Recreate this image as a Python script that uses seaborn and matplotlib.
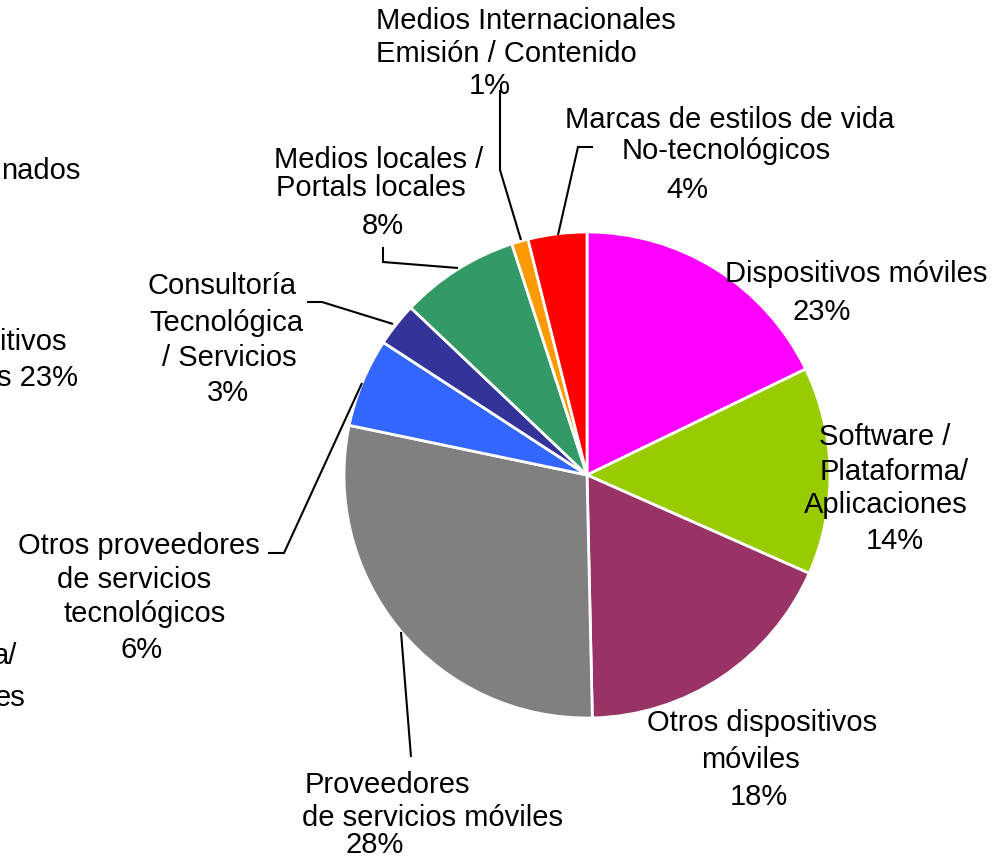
import matplotlib
matplotlib.use("Agg")
import matplotlib.pyplot as plt
import seaborn as sns

# ---------------- data ----------------
categories = [
    "Dispositivos móviles",
    "Software /\nPlataforma/\nAplicaciones",
    "Otros dispositivos\nmóviles",
    "Proveedores\nde servicios móviles",
    "Otros proveedores\nde servicios\ntecnológicos",
    "Consultoría\nTecnológica\n/ Servicios",
    "Medios locales /\nPortals locales",
    "Medios Internacionales\nEmisión / Contenido",
    "Marcas de estilos de vida\nNo-tecnológicos",
]
values = [17.8, 13.8, 18.0, 28.6, 5.9, 2.9, 7.9, 1.1, 3.9]
pct_labels = ["23%", "14%", "18%", "28%", "6%", "3%", "8%", "1%", "4%"]
colors = ["#FF00FF", "#99CC00", "#993366", "#808080", "#3366FF",
          "#333399", "#339966", "#FF9900", "#FF0000"]

# clipped fragments of a neighbouring chart at the left edge
fragments = ["nados", "itivos", "s 23%", "a/", "es"]

# ---------------- layout (pixel coords, y from top) ----------------
W, H = 1007, 856
CX, CY, R = 587, 475, 243

# per-line placement: (ha, x, baseline_y)
line_pos = [
    [("center", 856, 282), ("center", 822, 320)],
    [("center", 885, 445), ("center", 894, 480), ("center", 886, 513), ("center", 895, 549)],
    [("center", 762, 731), ("center", 750, 768), ("center", 759, 805)],
    [("left", 305, 793), ("left", 302, 826), ("center", 375, 853)],
    [("center", 139, 554), ("center", 134, 588), ("center", 145, 622), ("center", 142, 658)],
    [("center", 222, 294), ("center", 226, 331), ("center", 229, 366), ("center", 228, 401)],
    [("center", 379, 168), ("center", 371, 196), ("center", 383, 234)],
    [("left", 376, 29), ("left", 376, 62), ("center", 490, 94)],
    [("center", 730, 128), ("center", 726, 159), ("center", 687, 198)],
]
leaders = [
    None, None, None,
    [(401, 632), (411, 757)],
    [(268, 553), (284, 553), (362, 383)],
    [(307, 302), (322, 302), (393, 324)],
    [(383, 247), (383, 262), (458, 268)],
    [(500, 90), (500, 170), (521, 240)],
    [(593, 147), (578, 147), (558, 235)],
]
frag_pos = [(80, 179), (67, 350), (78, 386), (17, 664), (25, 706)]

# ---------------- drawing ----------------
sns.set_theme(style="white")
plt.rcParams["font.family"] = ["Liberation Sans", "DejaVu Sans"]
FS = 21

fig = plt.figure(figsize=(W / 100, H / 100), dpi=100)
ax = fig.add_axes([0, 0, 1, 1])

def Y(y):
    return H - y

ax.pie(values, colors=colors, startangle=90, counterclock=False,
       center=(CX, Y(CY)), radius=R,
       wedgeprops=dict(edgecolor="white", linewidth=2))

for cat, pct, pos, leader in zip(categories, pct_labels, line_pos, leaders):
    lines = cat.split("\n") + [pct]
    for txt, (ha, x, yb) in zip(lines, pos):
        ax.text(x, Y(yb), txt, ha=ha, va="baseline", fontsize=FS,
                color="black", zorder=5)
    if leader is not None:
        xs = [p[0] for p in leader]
        ys = [Y(p[1]) for p in leader]
        ax.plot(xs, ys, color="black", lw=1.5, zorder=4,
                solid_capstyle="butt", solid_joinstyle="miter")

for txt, (x, yb) in zip(fragments, frag_pos):
    ax.text(x, Y(yb), txt, ha="right", va="baseline", fontsize=FS, color="black")

ax.set_xlim(0, W)
ax.set_ylim(0, H)
ax.set_aspect("equal")
ax.axis("off")

fig.savefig("out.png", dpi=100, facecolor="white")
